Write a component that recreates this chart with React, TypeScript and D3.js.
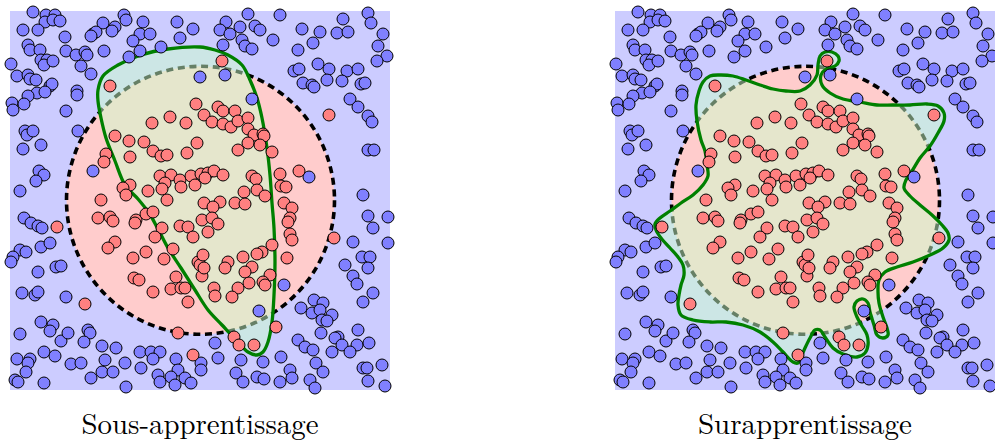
import React from 'react';
import * as d3 from 'd3';

type P = [number, number];

// Feature space: square [0, 38] x [0, 38]
const DOMAIN: [number, number] = [0, 38];
const circleCenter: P = [19.05, 18.97];
const circleRadius = 13.4;

const titles = ['Sous-apprentissage', 'Surapprentissage'];

const bluePoints: P[] = [
  [2.3,37.8],[3.6,37.5],[4.5,37.5],[3.5,36.8],[4.3,37.0],[5.0,36.9],[1.3,36.0],[2.8,36.0],[5.5,35.3],[1.8,34.5],
  [2.0,34.0],[3.0,34.0],[5.6,33.9],[6.6,33.5],[7.5,33.8],[7.7,33.5],[3.1,33.0],[3.7,33.0],[3.4,32.5],[4.3,32.9],
  [0.1,32.6],[7.1,32.4],[0.7,31.4],[1.8,31.5],[2.0,31.1],[2.6,31.0],[8.1,31.6],[4.0,30.4],[4.2,30.6],[2.7,29.7],
  [3.5,29.8],[1.8,29.4],[6.7,29.9],[6.7,29.5],[0.2,28.7],[1.4,28.6],[0.3,28.0],[5.6,27.9],[1.5,25.9],[1.7,25.5],
  [2.3,25.9],[6.8,25.9],[1.3,24.1],[3.1,24.5],[2.9,21.9],[3.4,21.5],[2.6,20.9],[8.3,21.9],[1.0,19.9],[9.3,36.7],
  [10.5,36.3],[10.2,35.9],[11.4,37.5],[11.6,37.0],[13.3,36.8],[13.0,35.6],[14.0,35.6],[12.3,34.9],[8.3,35.6],[8.6,35.8],
  [8.1,35.4],[9.4,33.9],[11.9,33.3],[13.0,33.9],[15.1,34.3],[16.7,36.8],[18.3,36.1],[17.0,35.2],[19.0,31.3],[23.8,37.6],
  [27.0,37.5],[21.6,36.8],[21.0,36.0],[22.0,35.6],[23.0,36.3],[24.5,36.4],[25.0,36.0],[23.2,35.0],[23.5,34.4],[24.2,34.1],
  [21.3,34.5],[26.3,35.0],[29.2,36.1],[31.0,35.8],[30.3,34.7],[28.8,34.0],[32.7,35.7],[33.8,35.8],[33.3,37.1],[35.8,37.7],
  [36.1,36.7],[37.3,35.6],[36.8,34.4],[37.7,33.4],[36.7,32.9],[30.8,32.6],[31.9,32.1],[33.7,31.9],[34.8,32.1],[28.4,31.9],
  [28.9,32.1],[29.3,30.7],[30.2,30.5],[30.4,30.3],[31.7,31.0],[33.2,30.9],[35.1,30.6],[35.5,30.7],[34.0,29.1],[34.8,28.3],
  [35.8,27.4],[36.2,26.8],[35.8,24.0],[36.4,24.0],[29.9,21.3],[21.5,31.5],[24.2,29.1],[35.3,19.5],[1.4,17.2],[2.1,16.7],
  [2.8,16.4],[3.2,16.2],[3.1,14.3],[4.0,14.7],[1.0,14.0],[1.6,13.8],[0.3,13.3],[0.1,12.8],[2.8,11.8],[4.6,12.3],
  [5.1,12.4],[1.2,9.7],[2.5,9.5],[2.8,9.8],[5.6,9.3],[3.1,6.8],[4.3,6.5],[4.0,5.9],[1.0,5.6],[5.1,4.9],
  [5.8,5.7],[7.8,6.0],[8.0,5.7],[7.4,4.8],[9.2,4.4],[10.6,4.2],[13.0,3.8],[14.1,3.8],[15.0,3.8],[14.3,3.1],
  [3.4,3.8],[4.5,3.4],[0.7,3.1],[2.0,3.1],[1.8,2.7],[1.6,1.8],[0.5,1.0],[0.8,0.8],[6.1,2.6],[7.1,2.7],
  [9.5,3.0],[9.2,1.8],[10.3,1.8],[11.5,2.7],[8.1,1.2],[3.4,0.7],[11.6,0.3],[13.1,2.2],[14.8,1.5],[15.0,0.8],
  [16.6,3.1],[16.8,2.0],[16.1,1.3],[17.5,1.2],[18.1,0.7],[16.5,0.5],[19.1,2.7],[19.1,2.0],[35.8,17.4],[37.8,17.3],
  [36.3,16.2],[34.3,14.8],[37.8,14.7],[35.2,13.3],[36.0,13.3],[35.8,12.2],[33.5,12.5],[34.3,11.4],[34.7,10.6],[36.3,9.7],
  [35.3,8.8],[27.4,10.5],[24.9,7.9],[30.4,9.0],[31.3,8.7],[29.1,8.2],[30.2,7.7],[31.0,8.0],[32.2,7.5],[31.2,7.0],
  [31.7,6.9],[31.1,5.7],[34.8,6.0],[32.8,5.3],[32.5,5.2],[28.8,5.0],[29.5,4.3],[30.3,4.0],[32.2,3.8],[33.2,4.5],
  [34.7,4.5],[35.9,4.7],[34.0,3.8],[20.5,4.7],[20.8,3.2],[23.1,3.0],[25.3,2.8],[27.1,3.3],[22.6,1.7],[23.3,0.8],
  [24.7,1.3],[25.4,1.1],[27.0,0.8],[28.0,2.0],[28.2,1.2],[30.6,2.7],[31.3,1.8],[30.0,1.0],[30.5,0.2],[35.3,2.2],
  [35.7,2.2],[35.8,0.9],[37.2,2.5],[37.5,0.4],
];

const redPoints: P[] = [
  [10.0,30.4],[18.6,28.6],[16.0,27.3],[14.2,26.7],[17.6,26.7],[19.4,27.5],[10.5,25.4],[11.9,24.9],[13.4,24.8],[18.7,24.7],
  [14.3,23.9],[15.1,23.4],[15.7,23.5],[17.7,23.7],[9.6,23.6],[9.4,22.8],[12.0,23.3],[15.0,21.4],[16.1,21.5],[17.0,21.0],
  [18.1,21.4],[19.1,21.6],[15.5,20.7],[15.2,20.1],[17.1,20.3],[18.5,20.5],[12.0,20.5],[11.3,20.2],[11.6,19.5],[13.8,19.9],
  [15.7,19.0],[9.1,19.0],[21.2,32.9],[31.9,27.5],[28.9,21.9],[20.8,28.3],[21.3,27.9],[22.5,27.9],[20.2,26.8],[21.3,26.6],
  [22.1,26.3],[22.8,26.9],[23.8,27.2],[23.8,26.1],[24.4,25.5],[25.3,25.6],[25.4,25.4],[23.8,24.7],[25.0,24.5],[22.8,24.0],
  [26.2,23.8],[19.8,21.7],[20.4,21.9],[21.3,21.5],[19.5,21.2],[24.2,21.4],[24.6,21.1],[27.0,21.6],[24.7,20.0],[27.1,20.4],
  [27.6,20.3],[23.4,19.8],[25.5,19.4],[21.0,18.8],[22.5,18.7],[23.5,18.6],[27.4,18.7],[19.4,18.7],[4.7,16.3],[8.8,17.2],
  [10.0,17.3],[10.3,16.9],[12.6,17.0],[12.5,16.7],[13.6,17.6],[14.3,17.8],[15.2,16.2],[14.5,15.3],[10.5,14.8],[9.8,14.2],
  [12.3,13.2],[13.6,13.8],[15.4,13.1],[16.3,14.1],[17.0,16.4],[17.8,16.3],[18.3,15.3],[18.8,12.8],[19.0,12.5],[19.2,11.4],
  [12.4,11.2],[12.9,11.0],[16.6,11.3],[16.1,10.1],[17.1,10.2],[17.5,10.2],[14.3,9.8],[17.8,8.8],[7.5,8.6],[16.8,5.7],
  [18.3,3.5],[20.3,18.3],[19.2,17.0],[20.2,17.2],[20.8,16.6],[19.8,15.8],[28.2,18.2],[28.0,17.2],[27.8,16.8],[28.0,15.6],
  [28.2,15.0],[32.4,15.2],[26.2,14.5],[27.7,13.2],[25.2,13.8],[24.7,13.6],[23.3,13.3],[19.3,13.5],[19.4,12.2],[21.8,12.8],
  [21.5,12.2],[24.2,12.3],[23.5,11.8],[26.0,11.5],[23.9,10.7],[25.3,10.8],[25.5,10.5],[22.8,10.2],[22.2,9.3],[20.4,10.2],
  [20.5,9.4],[26.6,6.3],[22.4,5.3],[22.9,4.5],[24.4,4.5],
];

// Decision boundary of the under-fitted model
const underfitBoundary: P[] = [
  [8.8,30.0],[9.3,31.4],[10.8,32.5],[13.1,33.5],[15.8,34.1],[19.0,34.3],[20.5,34.0],[21.8,33.5],[23.2,32.5],[24.0,31.0],
  [24.7,29.2],[25.2,27.2],[25.7,24.2],[26.0,21.5],[26.2,18.7],[26.4,16.2],[26.5,12.8],[26.4,9.5],[26.2,6.8],[25.8,4.8],
  [25.3,3.8],[24.7,3.5],[23.8,3.8],[22.8,4.8],[21.2,6.5],[19.8,8.0],[18.5,10.0],[17.1,12.2],[15.8,14.2],[14.8,16.1],
  [13.9,17.7],[12.8,19.1],[11.5,20.5],[10.5,22.9],[9.6,25.2],[9.1,27.2],[8.8,28.9],
];

// Decision boundary of the over-fitted model
const overfitBoundary: P[] = [
  [6.6,18.7],[7.8,19.5],[8.8,20.5],[9.3,21.4],[9.2,22.5],[9.0,23.9],[8.6,25.0],[8.2,26.9],[8.1,28.5],[8.4,29.9],
  [8.8,30.8],[9.5,31.4],[10.5,31.5],[11.8,31.4],[13.1,31.0],[14.5,30.5],[15.8,30.1],[17.1,29.9],[18.5,29.9],[19.5,30.5],
  [20.2,31.5],[20.3,32.5],[20.5,33.4],[21.0,33.8],[21.7,33.8],[22.3,33.4],[22.4,32.9],[22.0,32.4],[21.1,32.1],[20.6,31.5],
  [20.7,30.5],[21.5,29.7],[22.8,29.1],[24.5,28.8],[26.2,28.5],[27.8,28.5],[29.5,28.5],[31.2,28.6],[32.3,28.4],[32.9,27.7],
  [32.9,26.9],[32.3,25.7],[31.5,24.4],[30.5,23.2],[29.7,21.9],[29.1,21.0],[28.9,20.2],[29.5,19.4],[30.5,18.5],[31.7,17.5],
  [32.7,16.5],[33.3,15.7],[33.4,15.0],[32.8,14.2],[31.5,13.5],[29.8,12.8],[28.2,12.3],[27.0,11.8],[26.4,11.0],[26.3,9.8],
  [26.4,8.7],[26.8,7.3],[27.2,6.2],[27.3,5.5],[26.8,5.2],[26.2,5.5],[25.9,6.5],[25.5,7.8],[25.3,8.7],[24.8,9.1],
  [24.2,8.9],[23.9,8.3],[24.2,7.3],[24.7,6.4],[25.2,5.5],[25.3,4.5],[25.0,3.7],[24.2,3.3],[22.8,3.6],[21.8,4.2],
  [21.0,5.3],[20.5,6.0],[20.0,6.0],[19.5,5.2],[19.0,4.2],[18.6,3.3],[18.3,2.7],[17.8,2.8],[16.8,3.8],[15.8,4.8],
  [14.5,5.8],[12.8,6.5],[11.1,6.8],[9.5,6.8],[7.8,7.0],[6.6,7.5],[6.3,8.5],[6.4,9.5],[6.6,10.5],[6.9,11.5],
  [6.8,12.5],[6.3,13.3],[5.5,14.2],[4.6,15.2],[4.1,16.0],[4.0,16.6],[4.5,17.2],[5.5,17.9],
];

const boundaries = [underfitBoundary, overfitBoundary];

const COLORS = {
  bg: '#ccccff',
  disk: '#ffcccc',
  region: '#ccffcc',
  line: '#008000',
  blue: '#8080ff',
  red: '#ff8080',
};

function Panel({ x0, boundary, title }: { x0: number; boundary: P[]; title: string }) {
  const size = 380;
  const top = 10;
  const xs = d3.scaleLinear().domain(DOMAIN).range([x0, x0 + size]);
  const ys = d3.scaleLinear().domain(DOMAIN).range([top + size, top]);
  const line = d3
    .line<P>()
    .x((d) => xs(d[0]))
    .y((d) => ys(d[1]))
    .curve(d3.curveCatmullRomClosed.alpha(0.5));
  const path = line(boundary) || '';
  const r = xs(circleCenter[0] + circleRadius) - xs(circleCenter[0]);
  const cx = xs(circleCenter[0]);
  const cy = ys(circleCenter[1]);
  const titleWidth = title.length === 18 ? 237 : 214;
  return (
    <g>
      <rect x={xs(0)} y={ys(38) + 1} width={xs(38) - xs(0)} height={ys(0) - ys(38) - 1} fill={COLORS.bg} />
      <circle cx={cx} cy={cy} r={r} fill={COLORS.disk} />
      <circle cx={cx} cy={cy} r={r} fill="none" stroke="#000" strokeWidth={3.6} strokeDasharray="7 4.7" />
      <path d={path} fill={COLORS.region} fillOpacity={0.5} stroke="none" />
      <path d={path} fill="none" stroke={COLORS.line} strokeWidth={3.3} strokeLinejoin="round" />
      {bluePoints.map((p, i) => (
        <circle key={'b' + i} cx={xs(p[0])} cy={ys(p[1])} r={6} fill={COLORS.blue} stroke="#000" strokeWidth={1} />
      ))}
      {redPoints.map((p, i) => (
        <circle key={'r' + i} cx={xs(p[0])} cy={ys(p[1])} r={6} fill={COLORS.red} stroke="#000" strokeWidth={1} />
      ))}
      <text
        x={xs(19)}
        y={434}
        textAnchor="middle"
        fontFamily="'Latin Modern Roman','CMU Serif','Liberation Serif','DejaVu Serif',serif"
        fontSize={28.5}
        textLength={titleWidth}
        lengthAdjust="spacingAndGlyphs"
        fill="#000"
      >
        {title}
      </text>
    </g>
  );
}

export default function App() {
  const offsets = [10, 615];
  return (
    <svg
      width={995}
      height={443}
      viewBox="0 0 995 443"
      style={{ position: 'absolute', left: 0, top: 0, background: '#fff' }}
    >
      {titles.map((t, i) => (
        <Panel key={t} x0={offsets[i]} boundary={boundaries[i]} title={t} />
      ))}
    </svg>
  );
}
